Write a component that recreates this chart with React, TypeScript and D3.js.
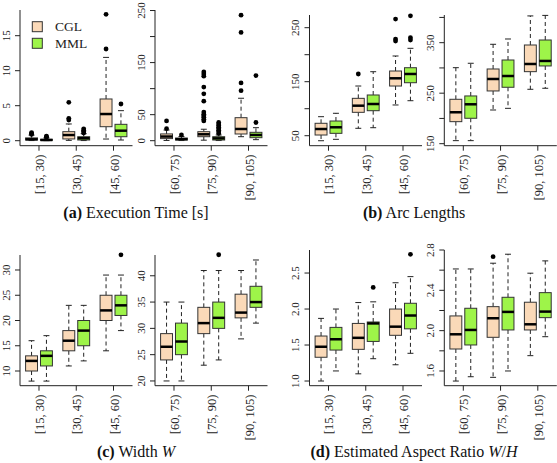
import React from "react";
import * as d3 from "d3";

// ---------- data ----------
const groupsLow = ["[15, 30)", "[30, 45)", "[45, 60)"];
const groupsHigh = ["[60, 75)", "[75, 90)", "[90, 105)"];
const methods = ["CGL", "MML"];

// box stats: [lower whisker, Q1, median, Q3, upper whisker]
const timeLowCGL = [[0.02, 0.1, 0.2, 0.4, 0.8], [0.05, 0.25, 0.81, 1.29, 2.39], [0.24, 2.0, 3.81, 5.96, 11.9]];
const timeLowMML = [[0.01, 0.05, 0.1, 0.2, 0.4], [0.02, 0.1, 0.35, 0.57, 1.0], [0.1, 0.57, 1.43, 2.34, 4.29]];
const timeLowCGLOut = [[0.9, 1.05, 1.15], [2.96, 3.2, 5.48], [13.1, 18.05]];
const timeLowMMLOut = [[0.45, 0.55, 0.65], [1.1, 1.3, 1.5, 1.7], [5.24]];

const timeHighCGL = [[0.5, 4, 8, 13, 20.5], [1, 7.7, 12.3, 17.3, 22], [7.7, 12.9, 22.5, 44.2, 81.5]];
const timeHighMML = [[0.3, 1.3, 3, 5, 8], [0.3, 1.3, 4.5, 7.7, 11], [2, 5.8, 11, 16.1, 25]];
const timeHighCGLOut = [[23, 38], [38, 41, 45, 48, 51, 55, 76, 90, 103, 124, 128, 132], [96, 111, 208, 241]];
const timeHighMMLOut = [[11], [14, 17, 20, 23, 26, 29, 32, 35], [35, 125]];

const arcLowCGL = [[40.7, 51.3, 62.4, 73, 85.2], [63.7, 93.3, 105.6, 119.2, 142], [106.9, 142, 156.3, 169.8, 197.6]];
const arcLowMML = [[43.3, 54.4, 65.6, 77.2, 91.5], [64.8, 96.3, 108.7, 125.4, 168.5], [114.8, 148.1, 164.3, 175.9, 211.8]];
const arcLowCGLOut = [[], [164.3], [225.4, 229, 266]];
const arcLowMMLOut = [[], [], [227.2, 231.5, 272]];

const arcHighCGL = [[156, 193.6, 212.2, 237.9, 300.5], [216.7, 254.4, 278.1, 297.9, 346.8], [257.7, 292.6, 307.8, 345.4, 403]];
const arcHighMML = [[156, 200.3, 228, 244.5, 309.2], [220, 261.7, 284, 315.7, 357.3], [259.7, 303.9, 313.8, 355.3, 404]];
const arcHighCGLOut: number[][] = [[], [], []];
const arcHighMMLOut: number[][] = [[], [], []];

const widthLowCGL = [[8, 10, 12, 13, 16], [11, 14, 16, 18, 23], [14, 20, 22, 25, 29]];
const widthLowMML = [[8, 11, 13, 14, 17], [12, 15, 18, 20, 23], [18, 21, 23, 25, 29]];
const widthLowCGLOut: number[][] = [[], [], []];
const widthLowMMLOut = [[], [], [33]];

const widthHighCGL = [[20, 24, 26.5, 29, 35], [23, 29, 31, 34, 41], [28, 32, 33, 36.5, 41]];
const widthHighMML = [[20, 25, 27.5, 31, 35], [24, 30, 32, 35, 41], [31, 34, 35, 38, 43]];
const widthHighCGLOut: number[][] = [[], [], []];
const widthHighMMLOut = [[], [44], []];

const ratioLowCGL = [[1.0, 1.33, 1.476, 1.625, 1.87], [1.1, 1.44, 1.6, 1.8, 2.09], [1.226, 1.635, 1.755, 2.0, 2.365]];
const ratioLowMML = [[1.14, 1.43, 1.58, 1.745, 2.0], [1.31, 1.55, 1.8, 1.82, 2.1], [1.385, 1.725, 1.91, 2.08, 2.45]];
const ratioLowCGLOut: number[][] = [[], [], []];
const ratioLowMMLOut = [[], [2.3], [2.76]];

const ratioHighCGL = [[1.5, 1.818, 1.964, 2.146, 2.612], [1.537, 1.934, 2.123, 2.238, 2.669], [1.752, 2.007, 2.063, 2.282, 2.57]];
const ratioHighMML = [[1.543, 1.858, 2.007, 2.222, 2.612], [1.6, 2.007, 2.186, 2.331, 2.758], [1.94, 2.129, 2.189, 2.377, 2.692]];
const ratioHighCGLOut = [[], [2.734], []];
const ratioHighMMLOut: number[][] = [[], [], []];

// y ticks & labelled ticks
const timeLowTicks = [0, 5, 10, 15];
const timeLowLabels = [0, 5, 10, 15];
const timeHighTicks = [0, 50, 100, 150, 200, 250];
const timeHighLabels = [0, 50, 150, 250];
const arcLowTicks = [50, 100, 150, 200, 250];
const arcLowLabels = [50, 150, 250];
const arcHighTicks = [150, 200, 250, 300, 350, 400];
const arcHighLabels = [150, 250, 350];
const widthLowTicks = [10, 15, 20, 25, 30];
const widthLowLabels = [10, 15, 20, 25, 30];
const widthHighTicks = [20, 25, 30, 35, 40];
const widthHighLabels = [20, 25, 30, 35, 40];
const ratioLowTicks = [1.0, 1.5, 2.0, 2.5];
const ratioLowLabels = [1.0, 1.5, 2.0, 2.5];
const ratioHighTicks = [1.6, 1.8, 2.0, 2.2, 2.4, 2.6, 2.8];
const ratioHighLabels = [1.6, 2.0, 2.4, 2.8];

// ---------- styles ----------
const COLORS = ["#fad9b8", "#9ef449"];
const FONT = "'Liberation Serif', 'DejaVu Serif', serif";

type Panel = {
  left: number; right: number; top: number; bottom: number;
  domain: [number, number];
  groups: string[];
  stats: number[][][]; // [method][group][5]
  outliers: number[][][];
  ticks: number[]; labels: number[]; fmt: (v: number) => string;
};

const intFmt = (v: number) => String(v);
const oneDec = (v: number) => v.toFixed(1);

const panels: Panel[] = [
  { left: 20, right: 132.5, top: 10, bottom: 145.7, domain: [-0.714, 18.67], groups: groupsLow,
    stats: [timeLowCGL, timeLowMML], outliers: [timeLowCGLOut, timeLowMMLOut], ticks: timeLowTicks, labels: timeLowLabels, fmt: intFmt },
  { left: 155, right: 267.5, top: 10, bottom: 145.7, domain: [-9.6, 251], groups: groupsHigh,
    stats: [timeHighCGL, timeHighMML], outliers: [timeHighCGLOut, timeHighMMLOut], ticks: timeHighTicks, labels: timeHighLabels, fmt: intFmt },
  { left: 309.5, right: 422, top: 15, bottom: 145.7, domain: [31.5, 273.5], groups: groupsLow,
    stats: [arcLowCGL, arcLowMML], outliers: [arcLowCGLOut, arcLowMMLOut], ticks: arcLowTicks, labels: arcLowLabels, fmt: intFmt },
  { left: 444.3, right: 556.8, top: 15, bottom: 145.7, domain: [146, 404.8], groups: groupsHigh,
    stats: [arcHighCGL, arcHighMML], outliers: [arcHighCGLOut, arcHighMMLOut], ticks: arcHighTicks, labels: arcHighLabels, fmt: intFmt },
  { left: 20, right: 132.5, top: 255, bottom: 385.7, domain: [7.09, 32.97], groups: groupsLow,
    stats: [widthLowCGL, widthLowMML], outliers: [widthLowCGLOut, widthLowMMLOut], ticks: widthLowTicks, labels: widthLowLabels, fmt: intFmt },
  { left: 155, right: 267.5, top: 255, bottom: 385.7, domain: [19.1, 43.95], groups: groupsHigh,
    stats: [widthHighCGL, widthHighMML], outliers: [widthHighCGLOut, widthHighMMLOut], ticks: widthHighTicks, labels: widthHighLabels, fmt: intFmt },
  { left: 309.5, right: 422, top: 250, bottom: 385.7, domain: [0.935, 2.82], groups: groupsLow,
    stats: [ratioLowCGL, ratioLowMML], outliers: [ratioLowCGLOut, ratioLowMMLOut], ticks: ratioLowTicks, labels: ratioLowLabels, fmt: oneDec },
  { left: 444.3, right: 556.8, top: 250, bottom: 385.7, domain: [1.454, 2.8], groups: groupsHigh,
    stats: [ratioHighCGL, ratioHighMML], outliers: [ratioHighCGLOut, ratioHighMMLOut], ticks: ratioHighTicks, labels: ratioHighLabels, fmt: oneDec },
];

function BoxPanel({ p }: { p: Panel }) {
  const x = d3.scaleLinear().domain([0.49, 3.51]).range([p.left, p.right]);
  const y = d3.scaleLinear().domain(p.domain).range([p.bottom, p.top]);
  const halfW = x(0.16) - x(0);
  const stapleW = halfW / 2;
  return (
    <g>
      {/* axes */}
      <line x1={p.left} x2={p.left} y1={p.top} y2={p.bottom} stroke="#222" strokeWidth={1} />
      <line x1={p.left} x2={p.right} y1={p.bottom} y2={p.bottom} stroke="#222" strokeWidth={1} />
      {p.ticks.map((t) => (
        <line key={"yt" + t} x1={p.left - 5} x2={p.left} y1={y(t)} y2={y(t)} stroke="#222" strokeWidth={1} />
      ))}
      {p.labels.map((t) => (
        <text key={"yl" + t} transform={`translate(${p.left - 10.5},${y(t)}) rotate(-90)`} textAnchor="middle"
          fontFamily={FONT} fontSize={11} fill="#222">{p.fmt(t)}</text>
      ))}
      {p.groups.map((g, i) => (
        <g key={"xg" + g}>
          <line x1={x(i + 1)} x2={x(i + 1)} y1={p.bottom} y2={p.bottom + 5} stroke="#222" strokeWidth={1} />
          <text transform={`translate(${x(i + 1)},${p.bottom + 9}) rotate(-90)`} textAnchor="end" dy="0.4em"
            fontFamily={FONT} fontSize={12.5} fill="#222">{g}</text>
        </g>
      ))}
      {/* boxes */}
      {p.stats.map((series, m) =>
        series.map((s, i) => {
          const cx = x(i + 1 + (m === 0 ? -0.2 : 0.2));
          const [lo, q1, med, q3, hi] = s;
          return (
            <g key={`b${m}-${i}`}>
              <line x1={cx} x2={cx} y1={y(q3)} y2={y(hi)} stroke="#222" strokeDasharray="4,3" />
              <line x1={cx} x2={cx} y1={y(q1)} y2={y(lo)} stroke="#222" strokeDasharray="4,3" />
              <line x1={cx - stapleW} x2={cx + stapleW} y1={y(hi)} y2={y(hi)} stroke="#222" />
              <line x1={cx - stapleW} x2={cx + stapleW} y1={y(lo)} y2={y(lo)} stroke="#222" />
              <rect x={cx - halfW} y={y(q3)} width={2 * halfW} height={Math.max(0.5, y(q1) - y(q3))}
                fill={COLORS[m]} stroke="#333" strokeWidth={1} />
              <line x1={cx - halfW} x2={cx + halfW} y1={y(med)} y2={y(med)} stroke="#000" strokeWidth={2.5} />
              {p.outliers[m][i].map((o, k) => (
                <circle key={k} cx={cx} cy={y(o)} r={2.4} fill="#000" />
              ))}
            </g>
          );
        })
      )}
    </g>
  );
}

export default function App() {
  return (
    <svg width={557} height={463} style={{ position: "absolute", left: 0, top: 0, background: "#fff" }}>
      <rect width={557} height={463} fill="#fff" />
      {panels.map((p, k) => <BoxPanel key={k} p={p} />)}
      {/* legend */}
      {methods.map((m, k) => (
        <g key={m}>
          <rect x={32.3} y={21.7 + k * 16.6} width={10} height={10} fill={COLORS[k]} stroke="#333" />
          <text x={55} y={31.3 + k * 16.6} fontFamily={FONT} fontSize={13.5} fill="#222">{m}</text>
        </g>
      ))}
      {/* captions */}
      <text x={136} y={218} textAnchor="middle" fontFamily={FONT} fontSize={16} fill="#111">
        <tspan fontWeight="bold">(a)</tspan> Execution Time [s]
      </text>
      <text x={414} y={218} textAnchor="middle" fontFamily={FONT} fontSize={16} fill="#111">
        <tspan fontWeight="bold">(b)</tspan> Arc Lengths
      </text>
      <text x={136} y={457} textAnchor="middle" fontFamily={FONT} fontSize={16} fill="#111">
        <tspan fontWeight="bold">(c)</tspan> Width <tspan fontStyle="italic">W</tspan>
      </text>
      <text x={414} y={457} textAnchor="middle" fontFamily={FONT} fontSize={16} fill="#111">
        <tspan fontWeight="bold">(d)</tspan> Estimated Aspect Ratio <tspan fontStyle="italic">W</tspan>/<tspan fontStyle="italic">H</tspan>
      </text>
    </svg>
  );
}
